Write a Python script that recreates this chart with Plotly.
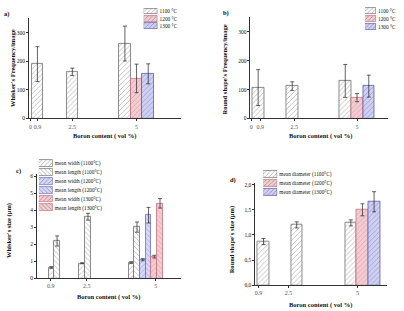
import plotly.graph_objects as go

# ---------------- data ----------------
boron = ["0.9", "2.5", "5"]
temps = ["1100 °C", "1200 °C", "1300 °C"]

# a) whisker frequency / image
wf_1100 = [190, 163, 262]
wf_1100_err = [61, 13, 61]
wf_1200 = [140]
wf_1200_err = [50]
wf_1300 = [156]
wf_1300_err = [35]

# b) round shape frequency / image
rf_1100 = [107, 112, 130]
rf_1100_err = [62, 15, 57]
rf_1200 = [72]
rf_1200_err = [14]
rf_1300 = [112]
rf_1300_err = [38]

# c) whisker size (um)
c_labels = ["mean width (1100°C)", "mean length (1100°C)",
            "mean width (1200°C)", "mean length (1200°C)",
            "mean width (1300°C)", "mean length (1300°C)"]
ws_w_1100 = [0.64, 0.89, 0.93]
ws_w_1100_err = [0.05, 0.03, 0.05]
ws_l_1100 = [2.2, 3.63, 3.02]
ws_l_1100_err = [0.3, 0.2, 0.3]
ws_w_1200 = [1.1]
ws_w_1200_err = [0.06]
ws_l_1200 = [3.72]
ws_l_1200_err = [0.46]
ws_w_1300 = [1.28]
ws_w_1300_err = [0.08]
ws_l_1300 = [4.42]
ws_l_1300_err = [0.28]

# d) round shape size (um)
d_labels = ["mean diameter (1100°C)", "mean diameter (1200°C)", "mean diameter (1300°C)"]
rd_1100 = [0.87, 1.20, 1.24]
rd_1100_err = [0.06, 0.06, 0.06]
rd_1200 = [1.50]
rd_1200_err = [0.12]
rd_1300 = [1.66]
rd_1300_err = [0.20]

y_ticks_d = [0, 0.5, 1.0, 1.5, 2.0]
y_ticktext_d = ["0,0", "0,5", "1,0", "1,5", "2,0"]

# ---------------- styles ----------------
W, H = 404, 311
SERIF = "Liberation Serif"

GREY = dict(bg="white", fg="#7a7a7a", line="#6e6e6e")
PINK = dict(bg="#f2cdd2", fg="#d27e8c", line="#c8707e")
BLUE = dict(bg="#d0d0f2", fg="#6c6cc4", line="#5a5ab4")
BLUE_C = dict(bg="#d6d8f6", fg="#7a80d8", line="#6a70cc")


def dx(a, b):
    return [a / W, b / W]


def dy(top, bottom):
    return [1 - bottom / H, 1 - top / H]


def px(x):
    return x / W


def py(y):
    return 1 - y / H


fig = go.Figure()


def add_bars(xref, yref, pos, vals, errs, offs, width, sty, shape="/"):
    fig.add_trace(go.Bar(
        x=pos, y=vals, width=width, offset=offs,
        xaxis=xref, yaxis=yref, showlegend=False,
        marker=dict(color=sty["bg"], line=dict(color=sty["line"], width=0.8),
                    pattern=dict(shape=shape, fgcolor=sty["fg"], bgcolor=sty["bg"],
                                 size=3.5, solidity=0.25)),
        error_y=dict(type="data", array=errs, color="#222", thickness=0.7, width=2),
    ))


# ---- panel a ----
pos_a = [1, 2, 3.84]
w_a = 0.334
add_bars("x", "y", pos_a, wf_1100, wf_1100_err, [-w_a / 2, -w_a / 2, -1.5 * w_a], w_a, GREY)
add_bars("x", "y", pos_a[2:], wf_1200, wf_1200_err, [-w_a / 2], w_a, PINK)
add_bars("x", "y", pos_a[2:], wf_1300, wf_1300_err, [w_a / 2], w_a, BLUE)

# ---- panel b ----
pos_b = [1, 2, 3.9]
w_b = 0.345
add_bars("x2", "y2", pos_b, rf_1100, rf_1100_err, [-w_b / 2, -w_b / 2, -1.5 * w_b], w_b, GREY)
add_bars("x2", "y2", pos_b[2:], rf_1200, rf_1200_err, [-w_b / 2], w_b, PINK)
add_bars("x2", "y2", pos_b[2:], rf_1300, rf_1300_err, [w_b / 2], w_b, BLUE)

# ---- panel c ----
pos_c = [1, 2, 3.96]
w_c = 0.186
add_bars("x3", "y3", pos_c, ws_w_1100, ws_w_1100_err, [-w_c, -w_c, -3 * w_c], w_c, GREY, "/")
add_bars("x3", "y3", pos_c, ws_l_1100, ws_l_1100_err, [0, 0, -2 * w_c], w_c, GREY, "\\")
add_bars("x3", "y3", pos_c[2:], ws_w_1200, ws_w_1200_err, [-w_c], w_c, BLUE_C, "/")
add_bars("x3", "y3", pos_c[2:], ws_l_1200, ws_l_1200_err, [0], w_c, BLUE_C, "\\")
add_bars("x3", "y3", pos_c[2:], ws_w_1300, ws_w_1300_err, [w_c], w_c, PINK, "/")
add_bars("x3", "y3", pos_c[2:], ws_l_1300, ws_l_1300_err, [2 * w_c], w_c, PINK, "\\")

# ---- panel d ----
pos_d = [1, 2, 3.98]
w_d = 0.35
add_bars("x4", "y4", pos_d, rd_1100, rd_1100_err, [-w_d / 2, -w_d / 2, -1.5 * w_d], w_d, GREY)
add_bars("x4", "y4", pos_d[2:], rd_1200, rd_1200_err, [-w_d / 2], w_d, PINK)
add_bars("x4", "y4", pos_d[2:], rd_1300, rd_1300_err, [w_d / 2], w_d, BLUE)


# ---- legend swatches (horizontal bars on small helper axes) ----
def add_legend(xref, yref, labels, styles, shapes):
    fig.add_trace(go.Bar(
        y=labels, x=[1] * len(labels), orientation="h", width=0.78,
        xaxis=xref, yaxis=yref, showlegend=False, hoverinfo="skip",
        marker=dict(color=[s["bg"] for s in styles],
                    line=dict(color=[s["line"] for s in styles], width=0.7),
                    pattern=dict(shape=shapes, fgcolor=[s["fg"] for s in styles],
                                 bgcolor=[s["bg"] for s in styles], size=3, solidity=0.25)),
    ))


add_legend("x5", "y5", temps, [GREY, PINK, BLUE], ["/"] * 3)
add_legend("x6", "y6", temps, [GREY, PINK, BLUE], ["/"] * 3)
add_legend("x7", "y7", c_labels, [GREY, GREY, BLUE_C, BLUE_C, PINK, PINK],
           ["/", "\\", "/", "\\", "/", "\\"])
add_legend("x8", "y8", d_labels, [GREY, PINK, BLUE], ["/"] * 3)

tick_font = dict(family=SERIF, size=5.5, color="#111")
xtick_font = dict(family=SERIF, size=6, color="#555")


def xaxis(domain, rng, tickvals, ticktext, anchor):
    return dict(domain=domain, range=rng, anchor=anchor, showgrid=False, zeroline=False,
                showline=True, linecolor="#333", linewidth=0.8, ticks="outside",
                ticklen=2, tickwidth=0.6, tickcolor="#333", tickangle=0,
                tickvals=tickvals, ticktext=ticktext, tickfont=xtick_font)


def yaxis(domain, rng, tickvals, ticktext, anchor):
    return dict(domain=domain, range=rng, anchor=anchor, showgrid=False, zeroline=False,
                showline=True, linecolor="#333", linewidth=0.8, ticks="outside",
                ticklen=2, tickwidth=0.6, tickcolor="#333",
                tickvals=tickvals, ticktext=ticktext, tickfont=tick_font)


def leg_x(domain, anchor):
    return dict(domain=domain, range=[0, 1], anchor=anchor, visible=False)


def leg_y(domain, anchor):
    return dict(domain=domain, anchor=anchor, type="category", autorange="reversed",
                side="right", showgrid=False, zeroline=False, showline=False, ticks="",
                ticklabelstandoff=1, tickfont=dict(family=SERIF, size=5.3, color="#111"))


fig.update_layout(
    width=W, height=H, margin=dict(l=0, r=0, t=0, b=0),
    paper_bgcolor="white", plot_bgcolor="rgba(0,0,0,0)",
    barmode="overlay", bargap=0,
    font=dict(family=SERIF, size=6, color="#111"),
    xaxis=xaxis(dx(28, 180), [0.757, 5.1], [0.8, pos_a[0], pos_a[1], pos_a[2]], ["0"] + boron, "y"),
    yaxis=yaxis(dy(17, 119), [0, 352], [0, 100, 200, 300], ["0", "100", "200", "300"], "x"),
    xaxis2=xaxis(dx(250, 388), [0.772, 4.81], [0.8, 1.06, 2.06, 3.9], ["0"] + boron, "y2"),
    yaxis2=yaxis(dy(16, 119), [0, 352], [0, 100, 200, 300], ["0", "100", "200", "300"], "x2"),
    xaxis3=xaxis(dx(36, 180), [0.44, 5.09], [0.89, 2.05, 4.29], boron, "y3"),
    yaxis3=yaxis(dy(175, 281), [0, 6.16], [0, 1, 2, 3, 4, 5, 6], ["0", "1", "2", "3", "4", "5", "6"], "x3"),
    xaxis4=xaxis(dx(255, 387), [0.754, 4.72], [0.85, 1.75, 3.83], boron, "y4"),
    yaxis4=yaxis(dy(184, 288), [0, 2.04], y_ticks_d, y_ticktext_d, "x4"),
    xaxis5=leg_x(dx(143, 157), "y5"),
    yaxis5=leg_y(dy(7, 29), "x5"),
    xaxis6=leg_x(dx(365, 376), "y6"),
    yaxis6=leg_y(dy(6, 30), "x6"),
    xaxis7=leg_x(dx(38, 52), "y7"),
    yaxis7=leg_y(dy(160, 214), "x7"),
    xaxis8=leg_x(dx(263, 277), "y8"),
    yaxis8=leg_y(dy(171, 198), "x8"),
)

title_font = dict(family=SERIF, size=6.5, color="#111")
ann = []


def text(x, y, s, angle=0, font=title_font, anchor="center"):
    ann.append(dict(x=px(x), y=py(y), xref="paper", yref="paper", text=s, showarrow=False,
                    textangle=angle, font=font, xanchor=anchor, yanchor="middle"))


# panel labels
lab_font = dict(family=SERIF, size=6.5, color="#111")
text(6, 13, "<b>a)</b>", font=lab_font)
text(226, 12, "<b>b)</b>", font=lab_font)
text(18, 172, "<b>c)</b>", font=lab_font)
text(233, 181, "<b>d)</b>", font=lab_font)

# axis titles
text(104, 137, "<b>Boron content ( vol %)</b>")
text(320, 137, "<b>Boron content ( vol %)</b>")
text(108, 300, "<b>Boron content ( vol %)</b>")
text(320, 308, "<b>Boron content ( vol %)</b>")
text(11, 68, "<b>Whisker's Frequency/image</b>", angle=-90)
text(224, 69, "<b>Round shape's Frequency/image</b>", angle=-90)
text(8, 232, "<b>Whisker's size (µm)</b>", angle=-90)
text(231, 241, "<b>Round shape's size (µm)</b>", angle=-90)

fig.update_layout(annotations=ann)

fig.write_html("out.html")
